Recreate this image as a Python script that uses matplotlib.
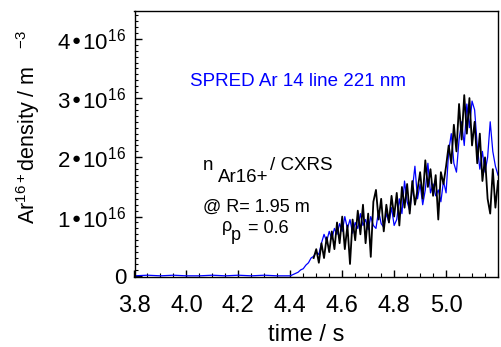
"""Ar16+ density: SPRED vs CXRS time traces."""
import matplotlib

matplotlib.use("Agg")

import matplotlib.pyplot as plt
from matplotlib.ticker import FixedLocator, MultipleLocator, FuncFormatter

plt.rcParams["font.family"] = ["Liberation Sans", "DejaVu Sans"]
plt.rcParams["mathtext.default"] = "regular"

# SPRED Ar 14 line 221 nm (blue), units of 1e16 m^-3
t_spred = [3.80, 3.85, 3.90, 3.95, 4.00, 4.05, 4.10, 4.15, 4.20, 4.25, 4.30, 4.35,
           4.40, 4.41, 4.42, 4.43, 4.44, 4.45, 4.46, 4.47, 4.48, 4.49,
           4.50, 4.51, 4.52, 4.53, 4.54, 4.55, 4.56, 4.57, 4.58, 4.59,
           4.60, 4.61, 4.62, 4.63, 4.64, 4.65, 4.66, 4.67, 4.68, 4.69,
           4.70, 4.71, 4.72, 4.73, 4.74, 4.75, 4.76, 4.77, 4.78, 4.79,
           4.80, 4.81, 4.82, 4.83, 4.84, 4.85, 4.86, 4.87, 4.88, 4.89,
           4.90, 4.91, 4.92, 4.93, 4.94, 4.95, 4.96, 4.97, 4.98, 4.99,
           5.00, 5.01, 5.02, 5.03, 5.04, 5.05, 5.06, 5.07, 5.08, 5.09,
           5.10, 5.11, 5.12, 5.13, 5.14, 5.15, 5.16, 5.17, 5.18, 5.19, 5.20]
n_spred = [0.00, 0.01, 0.00, 0.01, 0.00, 0.00, 0.01, 0.00, 0.01, 0.00, 0.01, 0.00,
           0.00, 0.02, 0.04, 0.06, 0.10, 0.12, 0.18, 0.22, 0.30, 0.33,
           0.40, 0.36, 0.55, 0.70, 0.58, 0.75, 0.62, 0.80, 0.70, 0.88,
           0.75, 1.00, 0.80, 0.95, 0.72, 0.90, 0.80, 1.05, 0.85, 0.95,
           0.78, 1.00, 0.85, 0.80, 1.10, 0.88, 0.82, 1.05, 0.90, 1.15,
           0.85, 0.95, 1.30, 1.05, 1.60, 1.25, 1.10, 1.45, 1.85, 1.30,
           1.55, 1.20, 1.45, 1.90, 1.40, 1.55, 1.35, 1.45, 1.25, 1.60,
           1.40, 2.10, 2.40, 1.90, 1.75, 2.30, 2.60, 2.20, 2.90, 2.50,
           2.95, 2.80, 2.20, 1.80, 2.10, 1.75, 2.00, 2.60, 2.10, 1.85, 1.70]

# CXRS n_Ar16+ (black), units of 1e16 m^-3
t_cxrs = [4.49, 4.50, 4.51, 4.52, 4.53, 4.54, 4.55, 4.56, 4.57, 4.58, 4.59,
          4.60, 4.61, 4.62, 4.63, 4.64, 4.65, 4.66, 4.67, 4.68, 4.69,
          4.70, 4.71, 4.72, 4.73, 4.74, 4.75, 4.76, 4.77, 4.78, 4.79,
          4.80, 4.81, 4.82, 4.83, 4.84, 4.85, 4.86, 4.87, 4.88, 4.89,
          4.90, 4.91, 4.92, 4.93, 4.94, 4.95, 4.96, 4.97, 4.98, 4.99,
          5.00, 5.01, 5.02, 5.03, 5.04, 5.05, 5.06, 5.07, 5.08, 5.09,
          5.10, 5.11, 5.12, 5.13, 5.14, 5.15, 5.16, 5.17, 5.18, 5.19, 5.20]
n_cxrs = [0.30, 0.45, 0.22, 0.55, 0.30, 0.65, 0.40, 0.75, 0.45, 0.90, 0.55,
          1.00, 0.45, 0.85, 0.20, 0.95, 0.60, 1.10, 0.70, 1.20, 0.55,
          1.05, 0.32, 1.25, 1.45, 0.95, 1.30, 0.75, 1.20, 0.90, 1.35,
          1.00, 1.40, 0.85, 1.50, 1.15, 1.55, 1.05, 1.60, 1.20, 1.45,
          1.75, 1.30, 1.95, 1.50, 1.80, 1.35, 1.70, 0.95, 1.75, 1.55,
          1.85, 2.20, 1.90, 2.55, 2.10, 2.90, 2.30, 3.05, 2.40, 3.00,
          2.20, 2.60, 1.90, 2.40, 1.60, 2.00, 1.30, 1.05, 1.80, 1.15, 1.60]

x_ticks = [3.8, 4.0, 4.2, 4.4, 4.6, 4.8, 5.0]
y_ticks = [0, 1, 2, 3, 4]

W, H = 501, 347
fig = plt.figure(figsize=(W / 100, H / 100), dpi=100)
ax = fig.add_axes([134.5 / W, 1 - 277 / H, (498 - 134.5) / W, (277 - 11) / H])


def px(x, y):
    return x / W, 1 - y / H


ax.plot(t_spred, n_spred, color="#0000ff", linewidth=0.9)
ax.plot(t_cxrs, n_cxrs, color="black", linewidth=1.3)

ax.set_xlim(3.8, 5.2)
ax.set_ylim(-0.02, 4.47)
ax.xaxis.set_major_locator(FixedLocator(x_ticks))
ax.xaxis.set_minor_locator(MultipleLocator(0.05))
ax.yaxis.set_major_locator(FixedLocator(y_ticks))
ax.yaxis.set_minor_locator(MultipleLocator(0.1))
ax.xaxis.set_major_formatter(FuncFormatter(lambda v, p: f"{v:.1f}"))
ax.yaxis.set_major_formatter(FuncFormatter(
    lambda v, p: "0" if v == 0 else f"{int(v)}\u202210$^{{16}}$"))
ax.tick_params(axis="both", which="both", direction="in", top=False, right=False)
ax.tick_params(axis="x", which="major", length=5, width=1, labelsize=17, pad=13)
ax.tick_params(axis="x", which="minor", length=3, width=0.8)
ax.tick_params(axis="y", which="major", length=5, width=1, labelsize=16, pad=6)
ax.tick_params(axis="y", which="minor", length=2, width=0.8)
for s in ax.spines.values():
    s.set_linewidth(1)

fig.text(*px(306, 341), "time / s", fontsize=17, ha="center", va="baseline")
fig.text(*px(28, 127), "Ar$^{16+}$density / m   $^{-3}$", fontsize=15.5,
         rotation=90, ha="center", va="center")

fig.text(*px(190, 86), "SPRED Ar 14 line 221 nm", color="#0000ff", fontsize=13.5,
         va="baseline")
fig.text(*px(203, 170), "n", fontsize=13.5, va="baseline")
fig.text(*px(218, 182), "Ar16+", fontsize=13.5, va="baseline")
fig.text(*px(270, 170), "/ CXRS", fontsize=13.5, va="baseline")
fig.text(*px(203, 212), "@ R= 1.95 m", fontsize=13, va="baseline")
fig.text(*px(222, 231), "\u03c1", fontsize=13, va="baseline")
fig.text(*px(231, 240), "p", fontsize=13, va="baseline")
fig.text(*px(248, 233), "= 0.6", fontsize=13, va="baseline")

fig.savefig("out.png", dpi=100)
